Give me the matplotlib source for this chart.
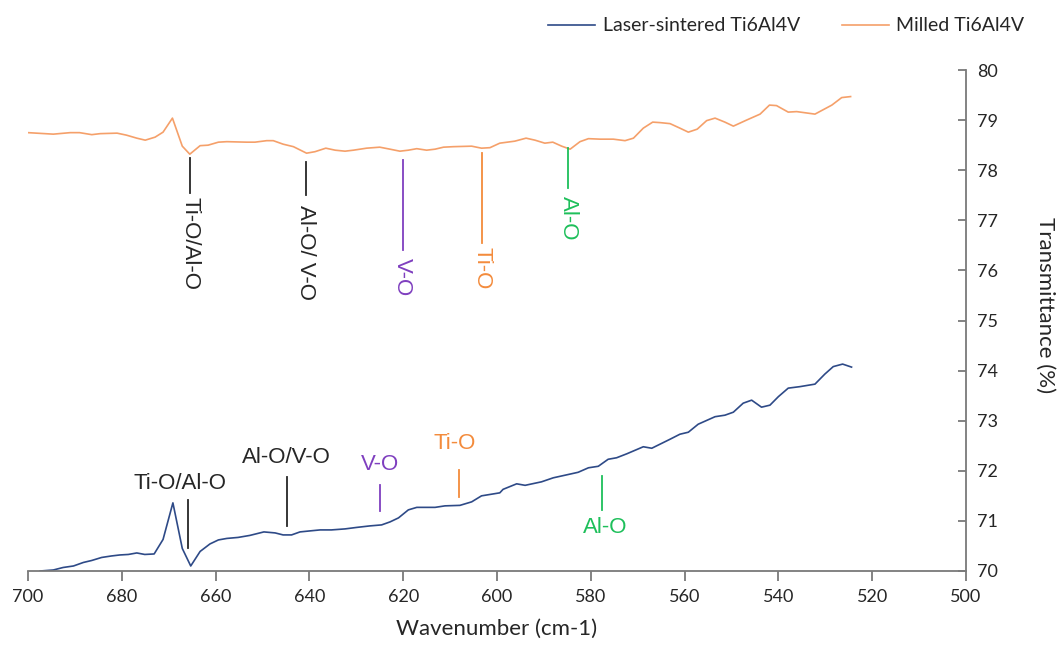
import matplotlib.pyplot as plt

# Milled Ti6Al4V (orange trace)
milled_wn = [700.0, 694.6, 691.0, 689.0, 686.4, 684.6, 681.0, 679.0, 676.8, 675.0,
             672.9, 671.2, 669.2, 667.1, 665.5, 663.3, 661.6, 659.4, 657.6, 653.4,
             651.6, 649.1, 647.7, 645.6, 643.4, 640.6, 638.8, 636.5, 634.5, 632.4,
             630.6, 627.8, 625.0, 622.8, 620.7, 618.9, 617.1, 615.0, 613.2, 611.4,
             609.3, 605.4, 603.3, 601.5, 599.4, 596.2, 593.8, 591.9, 589.8, 588.1,
             586.2, 584.4, 582.3, 580.5, 578.0, 575.2, 572.7, 570.9, 568.8, 566.8,
             565.2, 563.1, 561.0, 559.2, 557.3, 555.3, 553.5, 551.4, 549.6, 546.8,
             543.9, 541.9, 540.4, 537.9, 536.1, 532.2, 528.6, 526.5, 524.6]
milled_t = [78.75, 78.72, 78.75, 78.75, 78.71, 78.73, 78.74, 78.70, 78.64, 78.60,
            78.66, 78.76, 79.04, 78.48, 78.32, 78.49, 78.50, 78.56, 78.57, 78.56,
            78.56, 78.59, 78.59, 78.52, 78.47, 78.34, 78.37, 78.44, 78.40, 78.38,
            78.40, 78.44, 78.46, 78.42, 78.38, 78.40, 78.43, 78.40, 78.42, 78.46,
            78.47, 78.48, 78.44, 78.45, 78.54, 78.58, 78.64, 78.60, 78.54, 78.56,
            78.48, 78.42, 78.57, 78.63, 78.62, 78.62, 78.59, 78.64, 78.84, 78.96,
            78.95, 78.93, 78.84, 78.76, 78.82, 78.99, 79.04, 78.96, 78.88, 79.00,
            79.12, 79.30, 79.29, 79.16, 79.17, 79.12, 79.30, 79.45, 79.47]

# Laser-sintered Ti6Al4V (blue trace)
laser_wn = [697.4, 694.6, 692.5, 690.3, 688.2, 686.4, 684.3, 682.2, 680.4, 678.6,
            676.8, 675.1, 673.1, 671.2, 669.1, 667.1, 665.3, 663.3, 661.2, 659.4,
            657.6, 655.2, 652.7, 649.7, 647.3, 645.6, 643.8, 642.0, 639.9, 637.7,
            635.3, 632.4, 629.9, 627.1, 624.6, 622.8, 621.0, 618.9, 617.1, 613.2,
            611.1, 607.9, 605.4, 603.3, 599.4, 598.7, 595.8, 594.0, 590.5, 588.0,
            585.1, 582.7, 580.5, 578.4, 576.3, 574.5, 572.3, 568.8, 567.0, 563.1,
            561.0, 559.2, 557.1, 553.5, 551.4, 549.6, 547.5, 545.7, 543.6, 541.8,
            540.0, 537.9, 535.4, 532.2, 530.1, 528.3, 526.3, 524.4]
laser_t = [70.00, 70.02, 70.07, 70.10, 70.17, 70.21, 70.27, 70.30, 70.32, 70.33,
           70.36, 70.33, 70.34, 70.63, 71.36, 70.45, 70.10, 70.39, 70.54, 70.62,
           70.65, 70.67, 70.71, 70.78, 70.76, 70.72, 70.72, 70.78, 70.80, 70.82,
           70.82, 70.84, 70.87, 70.90, 70.92, 70.98, 71.06, 71.22, 71.27, 71.27,
           71.30, 71.31, 71.38, 71.50, 71.56, 71.63, 71.74, 71.71, 71.78, 71.86,
           71.92, 71.97, 72.06, 72.09, 72.23, 72.26, 72.34, 72.48, 72.45, 72.63,
           72.73, 72.77, 72.93, 73.08, 73.11, 73.17, 73.35, 73.41, 73.27, 73.31,
           73.48, 73.65, 73.68, 73.73, 73.93, 74.08, 74.13, 74.07]

# band assignments
top_labels = ["Ti-O/Al-O", "Al-O/ V-O", "V-O", "Ti-O", "Al-O"]
top_wn = [665.5, 640.8, 620.1, 603.1, 584.8]
bottom_labels = ["Ti-O/Al-O", "Al-O/V-O", "V-O", "Ti-O", "Al-O"]
bottom_wn = [665.8, 644.8, 625.0, 608.2, 577.7]
band_colors = ["#262626", "#262626", "#7F3FBF", "#F38B3C", "#1DBF5A"]

# layout of the marker lines/labels: (y0, y1, text x, text y)
top_layout = [(78.24, 77.54, 665.5, 76.53), (78.16, 77.50, 640.8, 76.35),
              (78.20, 76.41, 620.1, 75.87), (78.34, 76.55, 603.1, 76.05),
              (78.44, 77.64, 584.8, 77.05)]
bottom_layout = [(71.42, 70.46, 667.6, 71.74), (71.88, 70.90, 645.0, 72.26),
                 (71.72, 71.20, 625.0, 72.12), (72.02, 71.48, 609.0, 72.55),
                 (71.90, 71.22, 577.0, 70.86)]

axis_grey = "#7a7a7a"
txt = "#262626"
tick_font = "Lato"
ann_font = "Liberation Sans"

fig = plt.figure(figsize=(10.6, 6.49), dpi=100)
ax = fig.add_axes([0.0264, 0.1202, 0.9113 - 0.0264, 0.8921 - 0.1202])

ax.plot(laser_wn, laser_t, color="#2E4A87", lw=1.2, label="Laser-sintered Ti6Al4V")
ax.plot(milled_wn, milled_t, color="#F5A06A", lw=1.2, label="Milled Ti6Al4V")

for lab, wn, col, (y0, y1, tx, ty) in zip(top_labels, top_wn, band_colors, top_layout):
    ax.plot([wn, wn], [y0, y1], color=col, lw=1.3)
    ax.text(tx, ty, lab, color=col, rotation=-90, ha="center", va="center",
            fontsize=16, family=ann_font)

for lab, wn, col, (y0, y1, tx, ty) in zip(bottom_labels, bottom_wn, band_colors, bottom_layout):
    ax.plot([wn, wn], [y0, y1], color=col, lw=1.3)
    ax.text(tx, ty, lab, color=col, ha="center", va="center",
            fontsize=16, family=ann_font)

ax.set_xlim(700, 500)
ax.set_ylim(70, 80)
ax.set_xticks(range(700, 499, -20))
ax.set_yticks(range(70, 81))

ax.yaxis.tick_right()
ax.yaxis.set_label_position("right")
ax.spines["left"].set_visible(False)
ax.spines["top"].set_visible(False)
for s in ("bottom", "right"):
    ax.spines[s].set_color(axis_grey)
    ax.spines[s].set_linewidth(1.3)

ax.tick_params(axis="x", direction="out", length=7, width=1.3, color=axis_grey,
               labelsize=13, labelcolor=txt, pad=6)
ax.tick_params(axis="y", direction="in", length=6, width=1.3, color=axis_grey,
               labelsize=13, labelcolor=txt, pad=8)
for lbl in ax.get_xticklabels() + ax.get_yticklabels():
    lbl.set_family(tick_font)

ax.set_xlabel("Wavenumber (cm-1)", fontsize=16, color=txt, family=tick_font, labelpad=10)
ax.set_ylabel("Transmittance (%)", fontsize=16, color=txt, family=tick_font,
              rotation=-90, va="center", ha="center")
ax.yaxis.set_label_coords(1.084, 0.531)

leg = ax.legend(loc="upper right", bbox_to_anchor=(0.983, 1.0), bbox_transform=fig.transFigure,
                ncol=2, frameon=False, handlelength=2.4, handletextpad=0.4,
                columnspacing=2.15, prop={"family": tick_font, "size": 14})
for t in leg.get_texts():
    t.set_color(txt)

fig.savefig("out.png", dpi=100)
